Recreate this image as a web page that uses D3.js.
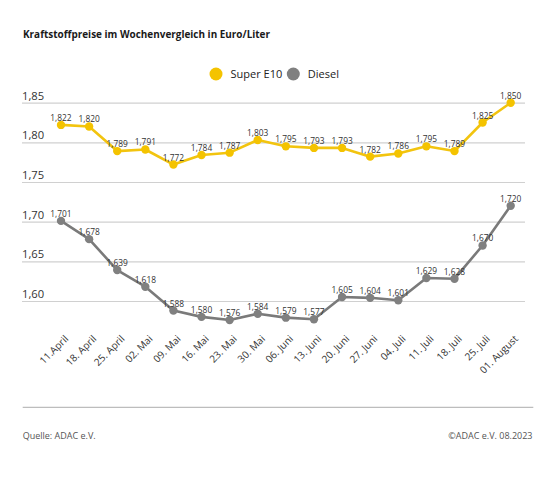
<!DOCTYPE html>
<html><head><meta charset="utf-8">
<script src="https://cdn.jsdelivr.net/npm/d3@7/dist/d3.min.js"></script>
<style>
body{margin:0;background:#fff;}
svg{display:block;font-family:"Open Sans",sans-serif;}
</style></head>
<body>
<svg id="c" width="556" height="487"></svg>
<script>
const dates = ["11.April","18. April","25. April","02. Mai","09. Mai","16. Mai","23. Mai","30. Mai","06. Juni","13. Juni","20. Juni","27. Juni","04. Juli","11. Juli","18. Juli","25. Juli","01. August"];
const superE10 = [1.822,1.820,1.789,1.791,1.772,1.784,1.787,1.803,1.795,1.793,1.793,1.782,1.786,1.795,1.789,1.825,1.850];
const diesel = [1.701,1.678,1.639,1.618,1.588,1.580,1.576,1.584,1.579,1.577,1.605,1.604,1.601,1.629,1.628,1.670,1.720];
const yTicks = [1.60,1.65,1.70,1.75,1.80,1.85];
const seriesNames = ["Super E10","Diesel"];
const colors = ["#f4c300","#808080"];
const lineColors = ["#f2c40f","#7a7a7a"];

const loc = d3.formatLocale({decimal:",",thousands:".",grouping:[3],currency:["","€"]});
const f2 = loc.format(".2f"), f3 = loc.format(".3f");

const svg = d3.select("#c");
const x = d3.scalePoint().domain(dates).range([61,510.7]);
const y = d3.scaleLinear().domain([1.60,1.85]).range([301,102.7]);

// title
const t = svg.append("text").attr("x",23).attr("y",38).attr("font-size",10.8).attr("font-weight","bold")
  .attr("fill","#1a1a1a").text("Kraftstoffpreise im Wochenvergleich in Euro/Liter");
t.attr("textLength",247).attr("lengthAdjust","spacingAndGlyphs");

// legend
const lg = svg.append("g");
const legX = [216,293.3];
seriesNames.forEach((n,i)=>{
  lg.append("circle").attr("cx",legX[i]).attr("cy",74).attr("r",6.5).attr("fill",colors[i]);
  lg.append("text").attr("x",legX[i]+14.5).attr("y",78).attr("font-size",11).attr("fill","#222").text(n);
});

// y axis gridlines
const ya = svg.append("g").attr("transform","translate(525,0)")
  .call(d3.axisLeft(y).tickValues(yTicks).tickSize(503).tickFormat(f2));
ya.select(".domain").remove();
ya.selectAll(".tick line").attr("stroke","#d0d0d0").attr("stroke-width",1.2);
ya.selectAll(".tick text").attr("x",-503).attr("dy",-3.5).attr("text-anchor","start")
  .attr("font-size",11.2).attr("fill","#333").attr("font-family","Open Sans, sans-serif");

// x axis labels
const xa = svg.append("g").attr("transform","translate(0,337)")
  .call(d3.axisBottom(x).tickSize(0).tickSizeOuter(0));
xa.select(".domain").remove();
xa.selectAll(".tick text").attr("text-anchor","end").attr("font-size",10).attr("fill","#333")
  .attr("font-family","Open Sans, sans-serif")
  .attr("transform","translate(5,0) rotate(-45)").attr("dy","0.35em").attr("y",0);

// series
const data = [superE10, diesel];
const line = d3.line().x((d,i)=>x(dates[i])).y(d=>y(d));
data.forEach((vals,si)=>{
  const g = svg.append("g");
  g.append("path").datum(vals).attr("d",line).attr("fill","none")
    .attr("stroke",lineColors[si]).attr("stroke-width",2.6).attr("stroke-linejoin","round");
  g.selectAll("circle").data(vals).join("circle")
    .attr("cx",(d,i)=>x(dates[i])).attr("cy",d=>y(d)).attr("r",4.2).attr("fill",colors[si]);
  g.selectAll("text").data(vals).join("text")
    .attr("x",(d,i)=>x(dates[i])).attr("y",d=>y(d)-4).attr("text-anchor","middle")
    .attr("font-size",8.4).attr("fill","#333").text(d=>f3(d));
});

// bottom rule
svg.append("line").attr("x1",22.7).attr("x2",533.3).attr("y1",407.3).attr("y2",407.3)
  .attr("stroke","#bdbdbd").attr("stroke-width",1.2);
svg.append("text").attr("x",22.7).attr("y",439).attr("font-size",9).attr("fill","#555").text("Quelle: ADAC e.V.");
svg.append("text").attr("x",532.5).attr("y",439).attr("font-size",9).attr("fill","#555")
  .attr("text-anchor","end").text("©ADAC e.V. 08.2023");
</script>
</body></html>
